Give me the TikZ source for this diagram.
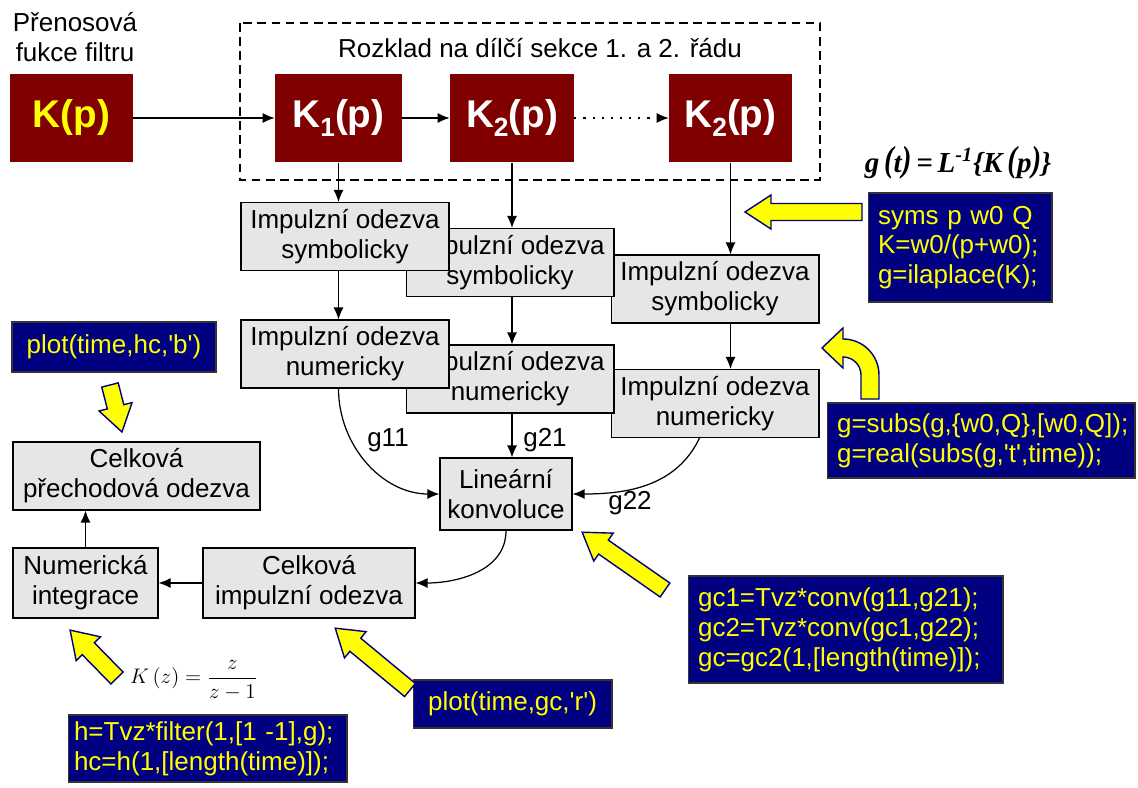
\documentclass[tikz,border=0pt]{standalone}
\usepackage{amsmath}
\usepackage{fontspec}
\setmainfont{Liberation Sans}
\newfontfamily\serifa{Liberation Serif}
\usetikzlibrary{arrows.meta}

\definecolor{bordo}{HTML}{800000}
\definecolor{modra}{HTML}{000080}
\definecolor{seda}{HTML}{E6E6E6}
\definecolor{zluta}{HTML}{FFFF00}

\tikzset{
  pismo/.style={font=\fontsize{14.8}{17}\selectfont},
  kblok/.style={fill=bordo, minimum width=2.5cm, minimum height=1.78cm, inner sep=0pt,
    text=white, font=\fontsize{22}{24}\selectfont\bfseries},
  blok/.style={draw=black, line width=0.6pt, fill=seda, align=center, inner sep=0pt,
    minimum width=4.16cm, minimum height=1.36cm, pismo},
  kod/.style={draw=black!80, line width=0.6pt, fill=modra, text=zluta, align=left,
    inner xsep=0.2cm, inner ysep=0pt, pismo},
  spoj/.style={line width=0.7pt, -{Latex[length=2.4mm,width=2mm]}},
  zsipka/.style={fill=zluta, draw=modra, line width=0.8pt, line join=miter}
}

\newcommand{\zsipka}[3]{%
  \draw[zsipka, shift={#1}, rotate=#2] (0,-8.5) -- ({#3-26},-8.5) -- ({#3-26},-17)
    -- (#3,0) -- ({#3-26},17) -- ({#3-26},8.5) -- (0,8.5) -- cycle;}

\newcommand{\podK}[1]{K\raisebox{-0.25em}{\fontsize{15}{15}\selectfont #1}(p)}
\newcommand{\uv}{\textquotesingle}

\begin{document}
\begin{tikzpicture}[x=0.02cm, y=-0.02cm]
  \useasboundingbox (0,0) rectangle (1138,787);

  \node[pismo, align=center] (prenos) at (75,37) {Přenosová\\fukce filtru};
  \draw[line width=0.7pt, dash pattern=on 5pt off 3pt] (240,23) rectangle (820,180);
  \node[pismo] (rozklad) at (540,48) {Rozklad na dílčí sekce 1. a 2. řádu};

  \node[kblok, text=zluta, minimum width=2.46cm, minimum height=1.76cm] (Kp) at (71.5,118) {K(p)};
  \node[kblok, minimum width=2.54cm] (K1) at (338.5,118) {\podK{1}};
  \node[kblok, minimum width=2.48cm] (K2) at (512,118) {\podK{2}};
  \node[kblok, minimum width=2.46cm] (K3) at (730.5,118) {\podK{2}};

  \draw[spoj] (Kp) -- (K1);
  \draw[spoj] (K1) -- (K2);
  \draw[spoj, dash pattern=on 1.2pt off 4pt] (K2) -- (K3);

  \node[blok] (S3) at (715,289) {Impulzní odezva\\symbolicky};
  \node[blok] (S2) at (510,262.5) {Impulzní odezva\\symbolicky};
  \node[blok] (S1) at (345,236.5) {Impulzní odezva\\symbolicky};
  \node[blok] (N3) at (715,403.5) {Impulzní odezva\\numericky};
  \node[blok] (N2) at (510,379) {Impulzní odezva\\numericky};
  \node[blok] (N1) at (345,354) {Impulzní odezva\\numericky};

  \draw[spoj] (K1.south) -- (K1.south |- S1.north);
  \draw[spoj] (K2.south) -- (K2.south |- S2.north);
  \draw[spoj] (K3.south) -- (K3.south |- S3.north);
  \draw[spoj] (K1.south |- S1.south) -- (K1.south |- N1.north);
  \draw[spoj] (K2.south |- S2.south) -- (K2.south |- N2.north);
  \draw[spoj] (K3.south |- S3.south) -- (K3.south |- N3.north);

  \node[blok, minimum width=2.64cm, minimum height=1.44cm] (LK) at (506,494) {Lineární\\konvoluce};
  \node[blok, minimum width=4.24cm, minimum height=1.4cm] (CIO) at (309,583) {Celková\\impulzní odezva};
  \node[blok, minimum width=2.9cm, minimum height=1.4cm] (NI) at (85.5,583) {Numerická\\integrace};
  \node[blok, minimum width=4.94cm] (CPO) at (136.5,476) {Celková\\přechodová odezva};

  \draw[spoj] (K1.south |- N1.south) to[out=-90, in=180] (LK.west);
  \draw[spoj] (K2.south |- N2.south) -- (K2.south |- LK.north);
  \draw[spoj] (700,437) to[out=-115, in=0] (LK.east);
  \node[pismo] (g11) at (388,440) {g11};
  \node[pismo] (g21) at (545,440) {g21};
  \node[pismo] (g22) at (630,503) {g22};

  \draw[spoj] (LK.south) to[out=-90, in=0] (CIO.east);
  \draw[spoj] (CIO) -- (NI);
  \draw[spoj] (NI.north) -- (NI.north |- CPO.south);

  \node[kod, align=center, minimum width=4.08cm, minimum height=1cm] (hcplot) at (114,347) {plot(time,hc,\uv b\uv)};
  \node[kod, text width=3.28cm, minimum height=2.18cm] (kod1) at (960,247.5)
    {syms p w0 Q\\K=w0/(p+w0);\\g=ilaplace(K);};
  \node[kod, text width=5.76cm, minimum height=1.5cm] (kod2) at (981,440.5)
    {g=subs(g,\{w0,Q\},[w0,Q]);\\g=real(subs(g,\uv t\uv,time));};
  \node[kod, text width=5.9cm, minimum height=2.14cm] (kod3) at (845.5,629.5)
    {gc1=Tvz*conv(g11,g21);\\gc2=Tvz*conv(gc1,g22);\\gc=gc2(1,[length(time)]);};
  \node[kod, align=center, minimum width=3.98cm, minimum height=0.96cm] (gcplot) at (512.5,704) {plot(time,gc,\uv r\uv)};
  \node[kod, inner xsep=0.12cm, text width=5.34cm, minimum height=1.34cm] (kod4) at (207.5,748.5)
    {h=Tvz*filter(1,[1 -1],g);\\hc=h(1,[length(time)]);};

  \node (gt) at (958,163) {\fontsize{16.5}{18}\selectfont\serifa\bfseries\itshape
    g\,\raisebox{0.04em}{\scalebox{1}[1.25]{(}}t\raisebox{0.04em}{\scalebox{1}[1.25]{)}}\,=\,L\textsuperscript{-1}\{K\,\raisebox{0.04em}{\scalebox{1}[1.25]{(}}p\raisebox{0.04em}{\scalebox{1}[1.25]{)}}\}};
  \node (Kz) at (194,680) {\fontsize{12.5}{15}\selectfont $K\left(z\right)=\dfrac{z}{z-1}$};

  \zsipka{(862,212)}{180}{117}
  \zsipka{(110,385)}{-75.7}{48.5}
  \zsipka{(665,590)}{145.1}{101}
  \zsipka{(410,690)}{140.4}{97}
  \zsipka{(117,678)}{134.4}{67}
  \draw[zsipka] (861,399) -- (861,375) arc (0:-90:18) -- (843,368) -- (822,348)
    -- (843,328) -- (843,339) arc (-90:0:36) -- (879,399) -- cycle;
\end{tikzpicture}
\end{document}
